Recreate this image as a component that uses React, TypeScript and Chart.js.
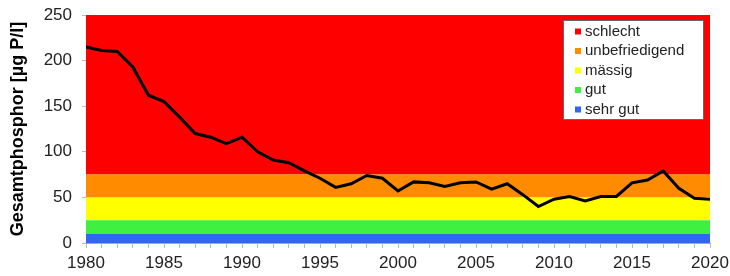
import React, { useEffect, useRef } from "react";
import { Chart, registerables } from "chart.js";

Chart.register(...registerables);

const years: number[] = [
  1980, 1981, 1982, 1983, 1984, 1985, 1986, 1987, 1988, 1989,
  1990, 1991, 1992, 1993, 1994, 1995, 1996, 1997, 1998, 1999,
  2000, 2001, 2002, 2003, 2004, 2005, 2006, 2007, 2008, 2009,
  2010, 2011, 2012, 2013, 2014, 2015, 2016, 2017, 2018, 2019, 2020,
];
const phosphor: number[] = [
  215, 211, 210, 193, 162, 155, 138, 120, 116, 109,
  116, 100, 91, 88, 79, 71, 61, 65, 74, 71,
  57, 67, 66, 62, 66, 67, 59, 65, 53, 40,
  48, 51, 46, 51, 51, 66, 69, 79, 60, 49, 48,
];

const bandLabels: string[] = ["sehr gut", "gut", "mässig", "unbefriedigend", "schlecht"];
const bandUpper: number[] = [10, 25, 50, 75, 250];
const bandColors: string[] = ["#3366F0", "#40F040", "#FFFF00", "#FF8C00", "#FF0000"];

const yTicks: number[] = [0, 50, 100, 150, 200, 250];
const yTitle = "Gesamtphosphor [µg P/l]";

const FONT = "'Liberation Sans', Arial, sans-serif";

const legendPlugin = {
  id: "bandLegend",
  afterDatasetsDraw(chart: any) {
    const { ctx, chartArea } = chart;
    const w = 141;
    const h = 100;
    const x0 = chartArea.right - 6 - w;
    const y0 = chartArea.top + 5;
    ctx.save();
    ctx.fillStyle = "#ffffff";
    ctx.fillRect(x0, y0, w, h);
    ctx.strokeStyle = "#666666";
    ctx.lineWidth = 1;
    ctx.strokeRect(x0 + 0.5, y0 + 0.5, w - 1, h - 1);
    ctx.font = `15px ${FONT}`;
    ctx.textBaseline = "middle";
    ctx.textAlign = "left";
    const n = bandLabels.length;
    for (let i = 0; i < n; i++) {
      const idx = n - 1 - i;
      const cy = y0 + 11.5 + i * 19.5;
      ctx.fillStyle = bandColors[idx];
      ctx.fillRect(x0 + 12, cy - 3, 6, 6);
      ctx.fillStyle = "#222222";
      ctx.fillText(bandLabels[idx], x0 + 22, cy);
    }
    ctx.restore();
  },
};

export default function App() {
  const ref = useRef<HTMLCanvasElement | null>(null);

  useEffect(() => {
    document.body.style.margin = "0";
    const canvas = ref.current;
    if (!canvas) return;

    const bandDatasets = bandUpper.map((u, i) => ({
      label: bandLabels[i],
      data: [
        { x: years[0], y: u },
        { x: years[years.length - 1], y: u },
      ],
      borderWidth: 0,
      borderColor: "rgba(0,0,0,0)",
      backgroundColor: bandColors[i],
      pointRadius: 0,
      fill: i === 0 ? "origin" : "-1",
      order: 2,
    }));

    const chart = new Chart(canvas, {
      type: "line",
      data: {
        datasets: [
          ...bandDatasets,
          {
            label: "Gesamtphosphor",
            data: years.map((y, i) => ({ x: y, y: phosphor[i] })),
            borderColor: "#000000",
            borderWidth: 3,
            pointRadius: 0,
            fill: false,
            tension: 0,
            order: 1,
          },
        ],
      },
      options: {
        responsive: false,
        animation: false,
        devicePixelRatio: 1,
        layout: { padding: { top: 15, right: 20, left: 0, bottom: 0 } },
        plugins: {
          legend: { display: false },
          tooltip: { enabled: false },
        },
        scales: {
          x: {
            type: "linear",
            min: years[0],
            max: years[years.length - 1],
            afterFit: (s: any) => {
              s.height = 33;
              s.paddingLeft = 0;
              s.paddingRight = 0;
            },
            afterBuildTicks: (s: any) => {
              s.ticks = years.map((v) => ({ value: v }));
            },
            ticks: {
              autoSkip: false,
              maxRotation: 0,
              padding: 5,
              color: "#222222",
              font: { family: FONT, size: 17 },
              callback: (v: any) => (Number(v) % 5 === 0 ? String(v) : ""),
            },
            grid: {
              drawOnChartArea: false,
              drawTicks: true,
              tickLength: 5,
              color: "#bbbbbb",
            },
            border: { display: true, color: "#aaaaaa" },
          },
          y: {
            min: 0,
            max: 250,
            afterFit: (s: any) => {
              s.width = 86;
              s.paddingTop = 0;
              s.paddingBottom = 0;
            },
            afterBuildTicks: (s: any) => {
              s.ticks = yTicks.map((v) => ({ value: v }));
            },
            ticks: {
              padding: 10,
              color: "#222222",
              font: { family: FONT, size: 17 },
            },
            grid: {
              drawOnChartArea: false,
              drawTicks: true,
              tickLength: 4,
              color: "#bbbbbb",
            },
            border: { display: true, color: "#aaaaaa" },
            title: {
              display: true,
              text: yTitle,
              color: "#000000",
              font: { family: FONT, size: 18, weight: "bold" },
              padding: { top: 7, bottom: 0 },
            },
          },
        },
      },
      plugins: [legendPlugin],
    });

    return () => chart.destroy();
  }, []);

  return (
    <div style={{ position: "relative", width: 730, height: 276, background: "#fff" }}>
      <canvas ref={ref} width={730} height={276} />
    </div>
  );
}
